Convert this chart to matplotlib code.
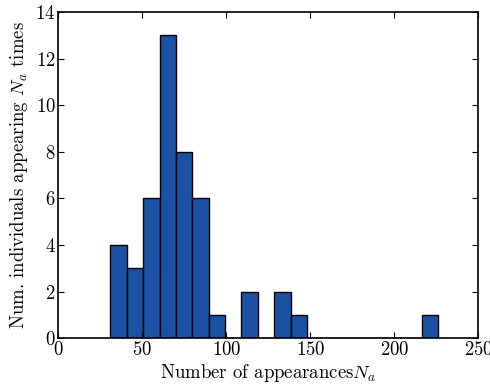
import numpy as np
import matplotlib
matplotlib.use("Agg")
import matplotlib.pyplot as plt

plt.rcParams['font.family'] = 'serif'
plt.rcParams['font.serif'] = ['cmr10']
plt.rcParams['mathtext.fontset'] = 'cm'
plt.rcParams['axes.formatter.use_mathtext'] = True

# histogram of appearance counts, 20 equal bins from min to max
n_min, n_max = 31, 226
counts = [4, 3, 6, 13, 8, 6, 1, 0, 2, 0, 2, 1, 0, 0, 0, 0, 0, 0, 0, 1]
edges = np.linspace(n_min, n_max, len(counts) + 1)

fig = plt.figure(figsize=(4.9, 3.86), dpi=100)
ax = fig.add_axes([0.119, 0.124, 0.857, 0.845])

ax.bar(edges[:-1], counts, width=np.diff(edges), align='edge',
       color='#1b51a4', edgecolor='black', linewidth=1.0)

ax.set_xlim(0, 250)
ax.set_ylim(0, 14)
ax.set_xticks([0, 50, 100, 150, 200, 250])
ax.set_yticks(range(0, 15, 2))
ax.tick_params(direction='in', top=True, right=True, labelsize=13.5, length=4, pad=2)
for s in ax.spines.values():
    s.set_linewidth(1.2)

ax.set_xlabel(r'Number of appearances$N_a$', fontsize=13.5, labelpad=2)
ax.set_ylabel(r'Num. individuals appearing $N_a$ times', fontsize=13.5, labelpad=4)

fig.savefig('out.png', dpi=100)
